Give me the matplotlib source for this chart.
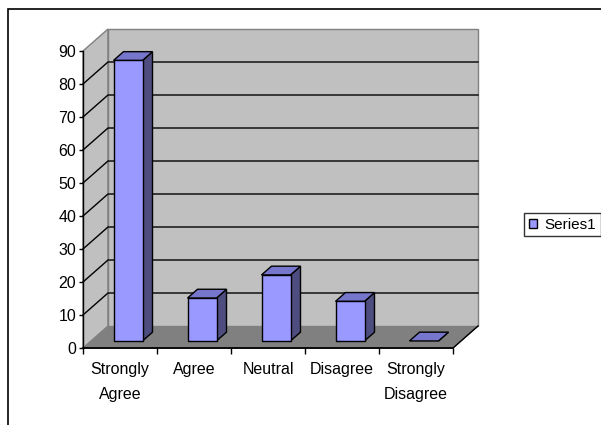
import matplotlib
matplotlib.use("Agg")
import matplotlib.pyplot as plt
from matplotlib.patches import Polygon, Rectangle, Patch

categories = ["Strongly\nAgree", "Agree", "Neutral", "Disagree", "Strongly\nDisagree"]
values = [85, 13, 20, 12, 0]
yticks = [0, 10, 20, 30, 40, 50, 60, 70, 80, 90]
series_name = "Series1"

plt.rcParams["font.family"] = ["Liberation Sans", "DejaVu Sans"]
FS = 11.5

W, H = 601, 425
fig = plt.figure(figsize=(W / 100, H / 100), dpi=100)
# plot area: x from 83px to 453px, y from 348px (0) to 51px (90)
ax = fig.add_axes([83 / W, (H - 348) / H, 370 / W, 297 / H])
ax.set_xlim(-0.5, len(categories) - 0.5)
ax.set_ylim(0, 90)
for s in ax.spines.values():
    s.set_visible(False)
ax.patch.set_visible(False)

# 3-D depth offsets in data units
ddx = 25 / 74
ddy = 22 / 3.3
x0, x1 = -0.5, len(categories) - 0.5
ymax = yticks[-1]

wall = "#c0c0c0"
floor = "#808080"
edge = "#808080"

# walls and floor
ax.add_patch(Polygon([(x0, 0), (x1, 0), (x1 + ddx, ddy), (x0 + ddx, ddy)],
                     closed=True, fc=floor, ec=edge, lw=1, clip_on=False, zorder=1))
ax.add_patch(Polygon([(x0, 0), (x0, ymax), (x0 + ddx, ymax + ddy), (x0 + ddx, ddy)],
                     closed=True, fc=wall, ec=edge, lw=1, clip_on=False, zorder=1))
ax.add_patch(Polygon([(x0 + ddx, ddy), (x1 + ddx, ddy), (x1 + ddx, ymax + ddy), (x0 + ddx, ymax + ddy)],
                     closed=True, fc=wall, ec=edge, lw=1, clip_on=False, zorder=1))

# gridlines on side and back walls
for v in yticks[1:-1]:
    ax.plot([x0, x0 + ddx, x1 + ddx], [v, v + ddy, v + ddy], color="black", lw=1,
            clip_on=False, zorder=2)

# floor right edge
ax.plot([x1, x1 + ddx], [0, ddy], color="black", lw=1, clip_on=False, zorder=2)

# bars
front_c, top_c, side_c = "#9999ff", "#7676cc", "#4d4d80"
bw = 29 / 74
f0, f1 = 0.32, 0.72
for i, v in enumerate(values):
    xl = i - bw / 2 + f0 * ddx
    xr = xl + bw
    yb = f0 * ddy
    yt = v + f0 * ddy
    bx = (f1 - f0) * ddx
    by = (f1 - f0) * ddy
    ax.add_patch(Polygon([(xr, yb), (xr + bx, yb + by), (xr + bx, yt + by), (xr, yt)],
                         closed=True, fc=side_c, ec="black", lw=1, clip_on=False, zorder=3))
    ax.add_patch(Polygon([(xl, yt), (xr, yt), (xr + bx, yt + by), (xl + bx, yt + by)],
                         closed=True, fc=top_c, ec="black", lw=1, clip_on=False, zorder=3))
    if v > 0:
        ax.add_patch(Rectangle((xl, yb), bw, v, fc=front_c, ec="black", lw=1,
                               clip_on=False, zorder=4))

# axis lines
ax.plot([x0, x0], [0, ymax], color="black", lw=1, clip_on=False, zorder=5)
ax.plot([x0, x1], [0, 0], color="black", lw=1.3, clip_on=False, zorder=5)

ax.set_yticks(yticks)
ax.set_yticklabels([str(t) for t in yticks], fontsize=FS)
ax.tick_params(axis="y", length=3, width=1, pad=2)
ax.set_xticks(range(len(categories)))
ax.set_xticklabels(categories, fontsize=FS, linespacing=1.85)
ax.set_xticks([i - 0.5 for i in range(len(categories) + 1)], minor=True)
ax.tick_params(axis="x", which="major", length=0, pad=10)
ax.tick_params(axis="x", which="minor", length=4, width=1)

# legend
handle = Patch(fc=front_c, ec="black", lw=1, label=series_name)
leg = fig.legend(handles=[handle], loc="upper left",
                 bbox_to_anchor=(524 / W, 1 - 213 / H), fontsize=11,
                 frameon=True, fancybox=False, edgecolor="black",
                 handlelength=0.55, handleheight=0.55, handletextpad=0.5,
                 borderpad=0.3, borderaxespad=0)
leg.get_frame().set_linewidth(1)

# chart area border
fig.patches.append(Rectangle((8 / W, -0.1), 1.2, 1 - 9 / H + 0.1, transform=fig.transFigure,
                             fill=False, ec="black", lw=1.2, clip_on=False))

fig.savefig("out.png", dpi=100)
